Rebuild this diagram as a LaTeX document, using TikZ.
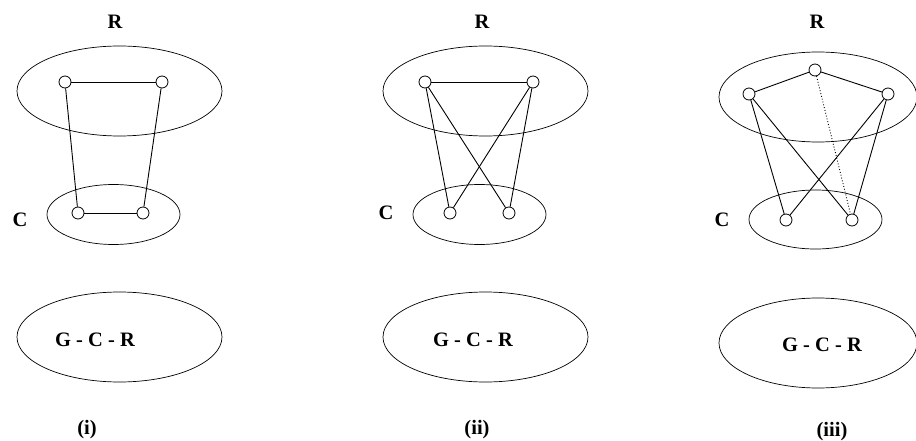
\documentclass[tikz,border=0pt]{standalone}
\usepackage{fontspec}
\setmainfont{Liberation Serif}
\usepackage{tikz}
\usetikzlibrary{shapes.geometric}

\begin{document}
\begin{tikzpicture}[
    x=1pt, y=-1pt,
    vtx/.style={
      draw,
      circle,
      fill=white,
      line width=0.8pt,
      inner sep=0pt,
      minimum size=12pt
    },
    blob/.style={
      draw,
      ellipse,
      line width=0.7pt,
      inner sep=0pt,
      minimum width=205pt,
      minimum height=90pt
    },
    small/.style={
      blob,
      minimum width=133pt,
      minimum height=60pt
    },
    lab/.style={
      font=\fontsize{20.5}{24}\selectfont\bfseries,
      inner sep=0pt
    },
    ln/.style={
      line width=0.9pt
    }
  ]
    \useasboundingbox (0,0) rectangle (916,441);

    % (i)
    \node[blob]  (R1) at (119.5,91) {};
    \node[small] (C1) at (113.5,214.5) {};
    \node[blob]  (G1) at (119.5,337) {};
    \node[lab] (r1)   at (115,22)  {R};
    \node[lab] (c1)   at (20,220)  {C};
    \node[lab] (g1)   at (95,340)  {G - C - R};
    \node[lab] (cap1) at (87,430)  {(i)};
    \node[vtx] (a1) at (65,82) {};
    \node[vtx] (b1) at (162,82) {};
    \node[vtx] (x1) at (78,213) {};
    \node[vtx] (y1) at (143,213) {};
    \draw[ln] (a1) -- (b1);
    \draw[ln] (x1) -- (y1);
    \draw[ln] (a1) -- (x1);
    \draw[ln] (b1) -- (y1);

    % (ii)
    \node[blob]  (R2) at (485.5,91) {};
    \node[small] (C2) at (479.5,214.5) {};
    \node[blob]  (G2) at (485.5,337) {};
    \node[lab] (r2)   at (482,22)  {R};
    \node[lab] (c2)   at (386,213) {C};
    \node[lab] (g2)   at (473,340) {G - C - R};
    \node[lab] (cap2) at (477,430) {(ii)};
    \node[vtx] (a2) at (425,82) {};
    \node[vtx] (b2) at (533,82) {};
    \node[vtx] (x2) at (450,213) {};
    \node[vtx] (y2) at (509,213) {};
    \draw[ln] (a2) -- (b2);
    \draw[ln] (a2) -- (x2);
    \draw[ln] (a2) -- (y2);
    \draw[ln] (b2) -- (x2);
    \draw[ln] (b2) -- (y2);

    % (iii)
    \node[blob, minimum width=198pt]  (R3) at (818,97) {};
    \node[small, minimum height=59pt] (C3) at (815.5,219.5) {};
    \node[blob, minimum width=198pt]  (G3) at (818,343) {};
    \node[lab] (r3)   at (817,22)  {R};
    \node[lab] (c3)   at (722,220) {C};
    \node[lab] (g3)   at (822,345) {G - C - R};
    \node[lab] (cap3) at (832,432) {(iii)};
    \node[vtx] (t3) at (815,70) {};
    \node[vtx] (a3) at (749,94) {};
    \node[vtx] (b3) at (888,94) {};
    \node[vtx] (x3) at (786,220) {};
    \node[vtx] (y3) at (852,220) {};
    \draw[ln] (t3) -- (a3);
    \draw[ln] (t3) -- (b3);
    \draw[ln] (a3) -- (x3);
    \draw[ln] (a3) -- (y3);
    \draw[ln] (b3) -- (x3);
    \draw[ln] (b3) -- (y3);
    \draw[ln, dotted] (t3) -- (y3);
  \end{tikzpicture}
\end{document}
